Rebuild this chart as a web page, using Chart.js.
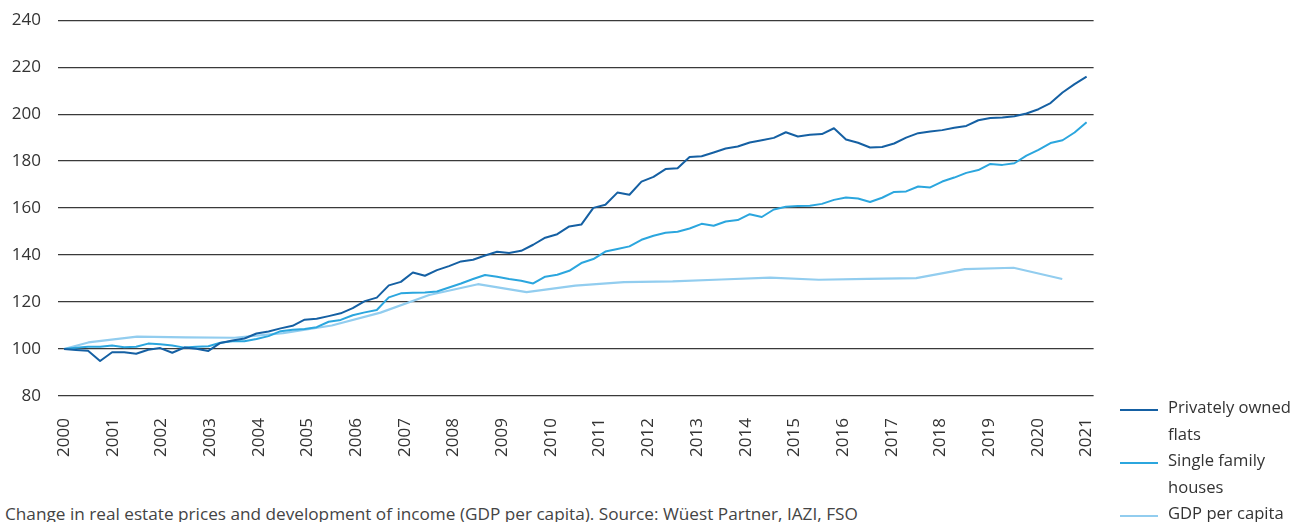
<!DOCTYPE html>
<html>
<head>
<meta charset="utf-8">
<script src="https://cdn.jsdelivr.net/npm/chart.js@4/dist/chart.umd.min.js"></script>
<style>
  body { margin: 0; background: #fff; font-family: "Open Sans", sans-serif; color: #333; }
  #wrap { position: relative; width: 1295px; height: 522px; overflow: hidden; }
  #box { position: absolute; left: 0; top: -7px; width: 1129px; height: 477px; }
  #legend { position: absolute; left: 1120px; top: 394px; width: 175px; }
  .item { display: flex; align-items: flex-start; font-size: 16.6px; line-height: 26.5px; }
  .swatch { width: 38px; height: 2px; margin-top: 15px; margin-right: 10px; flex: none; }
  #caption { position: absolute; left: 5px; top: 504px; font-size: 17.2px; line-height: 20px; color: #444; white-space: nowrap; }
</style>
</head>
<body>
<div id="wrap">
  <div id="box"><canvas id="chart"></canvas></div>
  <div id="legend"></div>
  <div id="caption">Change in real estate prices and development of income (GDP per capita). Source: Wüest Partner, IAZI, FSO</div>
</div>
<script>
// quarterly index values, 2000 = 100
const flats = [
  100, 99.6, 99.3, 94.9, 98.6, 98.6, 98.0, 99.7, 100.4, 98.4,
  100.6, 100.1, 99.2, 102.6, 103.6, 104.5, 106.6, 107.5, 108.8, 109.9,
  112.5, 112.9, 114.0, 115.2, 117.4, 120.4, 121.9, 127.1, 128.6, 132.6,
  131.2, 133.6, 135.3, 137.3, 138.0, 139.8, 141.4, 140.9, 141.8, 144.4,
  147.4, 148.9, 152.2, 153.0, 160.1, 161.4, 166.6, 165.7, 171.3, 173.3,
  176.6, 177.0, 181.8, 182.1, 183.7, 185.4, 186.2, 187.9, 188.9, 189.9,
  192.3, 190.5, 191.2, 191.5, 194.0, 189.2, 187.8, 185.8, 186.0, 187.5,
  190.0, 191.9, 192.6, 193.2, 194.2, 195.0, 197.4, 198.4, 198.6, 199.1,
  200.3, 202.1, 204.7, 209.2, 212.8, 216.0
];
const houses = [
  100, 100.5, 101.0, 101.0, 101.5, 100.8, 101.0, 102.3, 102.0, 101.5,
  100.6, 101.0, 101.2, 102.7, 103.3, 103.3, 104.3, 105.5, 107.6, 108.2,
  108.5, 109.3, 111.6, 112.4, 114.4, 115.6, 116.6, 122.0, 123.7, 124.0,
  124.1, 124.5, 126.2, 127.9, 129.8, 131.5, 130.8, 129.8, 129.1, 127.9,
  130.8, 131.6, 133.3, 136.6, 138.3, 141.5, 142.6, 143.7, 146.5, 148.2,
  149.5, 149.9, 151.3, 153.3, 152.5, 154.3, 154.9, 157.4, 156.2, 159.4,
  160.6, 160.9, 161.0, 161.8, 163.5, 164.5, 164.1, 162.6, 164.4, 166.9,
  167.1, 169.2, 168.8, 171.3, 173.0, 175.0, 176.2, 178.8, 178.4, 179.1,
  182.3, 184.8, 187.7, 188.9, 192.2, 196.6
];
// GDP per capita: yearly values
const gdpYears = [2000, 2000.5, 2001.5, 2002.5, 2003.5, 2004.5, 2005.5, 2006.5, 2007.5, 2008.5,
  2009.5, 2010.5, 2011.5, 2012.5, 2013.5, 2014.5, 2015.5, 2016.5, 2017.5, 2018.5, 2019.5, 2020.5];
const gdp = [100, 102.8, 105.3, 105.0, 104.8, 106.8, 110.0, 115.5, 123.0, 127.6,
  124.2, 127.0, 128.5, 128.8, 129.6, 130.4, 129.5, 129.9, 130.2, 134.0, 134.6, 129.8];

const yearTicks = [];
for (let y = 2000; y <= 2021; y++) yearTicks.push(y);
const yTicks = [80, 100, 120, 140, 160, 180, 200, 220, 240];

const labels = ['Privately owned flats', 'Single family houses', 'GDP per capita'];
const colors = ['#1560a3', '#2ba6de', '#92cdef'];

// quarterly periods spread over 2000..2021
const periods = flats.map((v, i) => 2000 + i * 21 / (flats.length - 1));

const toPoints = (xs, ys) => ys.map((v, i) => ({ x: xs[i], y: v }));

new Chart(document.getElementById('chart'), {
  type: 'line',
  data: {
    datasets: [
      { label: labels[0], data: toPoints(periods, flats), borderColor: colors[0], borderWidth: 2 },
      { label: labels[1], data: toPoints(periods, houses), borderColor: colors[1], borderWidth: 2 },
      { label: labels[2], data: toPoints(gdpYears, gdp), borderColor: colors[2], borderWidth: 2.2 }
    ]
  },
  options: {
    responsive: true,
    maintainAspectRatio: false,
    animation: false,
    elements: { point: { radius: 0 }, line: { tension: 0, borderJoinStyle: 'round' } },
    layout: { padding: { top: 12, right: 0, left: 0, bottom: 0 } },
    plugins: { legend: { display: false }, tooltip: { enabled: false } },
    scales: {
      x: {
        type: 'linear',
        min: 1999.877,
        max: 2021.144,
        afterBuildTicks: s => { s.ticks = yearTicks.map(v => ({ value: v })); },
        afterFit: s => { s.height = 74; },
        grid: { display: false, drawTicks: false },
        border: { display: false },
        ticks: {
          autoSkip: false,
          maxRotation: 90,
          minRotation: 90,
          padding: 22,
          color: '#333',
          font: { family: 'Open Sans', size: 17 },
          callback: v => String(v)
        }
      },
      y: {
        min: 80,
        max: 240,
        afterBuildTicks: s => { s.ticks = yTicks.map(v => ({ value: v })); },
        afterFit: s => { s.width = 58; },
        grid: { color: '#3a3a3a', lineWidth: 1.3, drawTicks: false },
        border: { display: false },
        ticks: { padding: 17, color: '#333', font: { family: 'Open Sans', size: 17 } }
      }
    }
  }
});

const legend = document.getElementById('legend');
labels.forEach((t, i) => {
  const words = t.split(' ');
  const text = i === 2 ? t : words.slice(0, -1).join(' ') + '<br>' + words[words.length - 1];
  legend.innerHTML += '<div class="item"><span class="swatch" style="background:' + colors[i] + '"></span><span>' + text + '</span></div>';
});
</script>
</body>
</html>
